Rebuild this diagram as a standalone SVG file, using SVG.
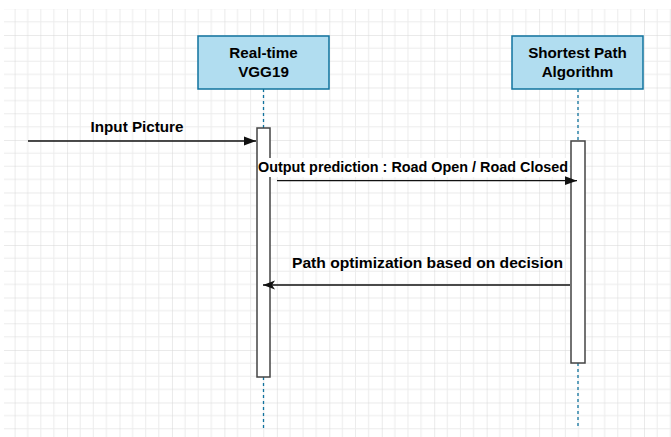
<svg xmlns="http://www.w3.org/2000/svg" width="671" height="437" viewBox="0 0 671 437">
<style>
.lbl{font-family:"Liberation Sans",Arial,sans-serif;font-weight:bold;font-size:15.2px;fill:#000;text-anchor:middle}
.box{fill:#b1ddf0;stroke:#10739e;stroke-width:1.5}
.life{stroke:#10739e;stroke-width:1.3;stroke-dasharray:3 3;fill:none}
.act{fill:#fff;stroke:#444;stroke-width:1.5}
.msg{stroke:#111;stroke-width:1.3;fill:none}
</style>
<defs>
<pattern id="grid" patternUnits="userSpaceOnUse" x="14.6" y="35" width="52.45" height="52.5">
<path d="M13.11 0V52.5M26.22 0V52.5M39.34 0V52.5M0 13.125H52.45M0 26.25H52.45M0 39.375H52.45" stroke="#ececec" stroke-width="1" fill="none"/>
<path d="M0 0V52.5M0 0H52.45" stroke="#d6d6d6" stroke-width="1" fill="none"/>
</pattern>
<marker id="block" markerWidth="13" markerHeight="10" refX="12" refY="5" orient="auto" markerUnits="userSpaceOnUse">
<path d="M0 0.6L12 5L0 9.4Z" fill="#111"/>
</marker>
<marker id="classic" markerWidth="13" markerHeight="10" refX="12" refY="5" orient="auto" markerUnits="userSpaceOnUse">
<path d="M0 0.6L12 5L0 9.4L3 5Z" fill="#111"/>
</marker>
</defs>
<rect x="0" y="0" width="671" height="437" fill="#fff"/>
<rect x="4" y="9" width="667" height="428" fill="url(#grid)"/>
<g id="lifelines">
<line class="life" x1="263.5" y1="89" x2="263.5" y2="128"/>
<line class="life" x1="263.5" y1="377" x2="263.5" y2="429"/>
<line class="life" x1="578" y1="89" x2="578" y2="141"/>
<line class="life" x1="578" y1="363" x2="578" y2="429"/>
</g>
<g id="node-vgg">
<rect class="box" x="198" y="36" width="131" height="53"/>
<text class="lbl" x="263.5" y="58">Real-time</text>
<text class="lbl" x="263.5" y="77">VGG19</text>
</g>
<g id="node-sp">
<rect class="box" x="512" y="36" width="131" height="53"/>
<text class="lbl" x="577.5" y="58">Shortest Path</text>
<text class="lbl" x="577.5" y="77">Algorithm</text>
</g>
<g id="act-vgg">
<rect class="act" x="257" y="128" width="13" height="249"/>
</g>
<g id="act-sp">
<rect class="act" x="571" y="141" width="14" height="222"/>
</g>
<g id="connectors">
<line class="msg" x1="28" y1="141" x2="256" y2="141" marker-end="url(#block)"/>
<text class="lbl" x="137" y="132" font-size="15.6">Input Picture</text>
<rect x="258" y="158" width="311" height="19" fill="#fff"/>
<line class="msg" x1="277" y1="180.7" x2="577" y2="180.7" marker-end="url(#block)"/>
<text class="lbl" x="413" y="172" textLength="310" lengthAdjust="spacingAndGlyphs">Output prediction : Road Open / Road Closed</text>
<line class="msg" x1="570" y1="285" x2="263" y2="285" marker-end="url(#classic)"/>
<text class="lbl" x="427.5" y="268" font-size="15.6" textLength="271" lengthAdjust="spacingAndGlyphs">Path optimization based on decision</text>
</g>
</svg>
